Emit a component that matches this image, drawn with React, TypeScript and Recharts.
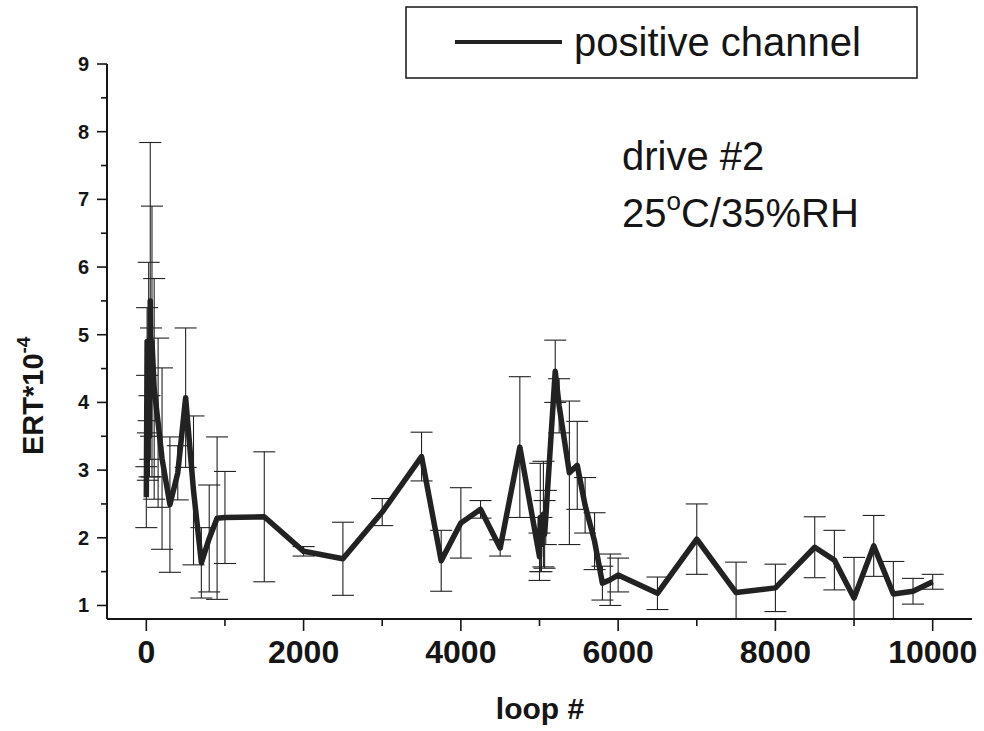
import { LineChart, Line, XAxis, YAxis, ErrorBar } from "recharts";

const FONT = "'Liberation Sans', Arial, sans-serif";
const INK = "#151515";

// loop #
const LOOPS = [
  0, 10, 20, 30, 40, 50, 60, 72, 100, 150, 200, 300, 400, 500, 600, 700, 800, 900, 1000,
  1500, 2000, 2500, 3000, 3500, 3750, 4000, 4250, 4500, 4750,
  5000, 5010, 5025, 5050, 5065, 5080, 5200, 5250, 5380, 5480, 5580, 5700, 5800, 5900,
  6000, 6500, 7000, 7500, 8000, 8500, 8750, 9000, 9250, 9500, 9750, 10000,
];
// ERT*10^-4
const ERT = [
  2.6, 4.9, 3.2, 4.9, 3.5, 5.5, 4.3, 4.9, 4.2, 3.7, 3.17, 2.49, 2.96, 4.07, 2.7, 1.63, 1.99, 2.29, 2.3,
  2.31, 1.8, 1.69, 2.38, 3.2, 1.66, 2.22, 2.42, 1.85, 3.34,
  1.72, 2.3, 1.9, 2.35, 2.05, 2.3, 4.46, 3.95, 2.96, 3.07, 2.48, 1.95, 1.33, 1.38,
  1.45, 1.18, 1.98, 1.19, 1.26, 1.86, 1.67, 1.11, 1.88, 1.17, 1.21, 1.35,
];
// error bar half height
const ERR = [
  0.45, 0.5, 0.35, 1.17, 0.6, 2.34, 0.8, 2.0, 1.63, 1.25, 1.34, 1.0, 0.4, 1.03, 1.1, 0.52, 0.79, 1.2, 0.68,
  0.96, 0.07, 0.54, 0.2, 0.36, 0.45, 0.52, 0.13, 0.12, 1.04,
  0.35, 0.8, 0.4, 0.78, 0.5, 0.4, 0.46, 0.4, 1.06, 0.65, 0.41, 0.42, 0.25, 0.38,
  0.25, 0.24, 0.52, 0.45, 0.35, 0.45, 0.44, 0.6, 0.45, 0.48, 0.19, 0.11,
];

const X_TICKS = [0, 1000, 2000, 3000, 4000, 5000, 6000, 7000, 8000, 9000, 10000];
const Y_TICKS = [1, 1.5, 2, 2.5, 3, 3.5, 4, 4.5, 5, 5.5, 6, 6.5, 7, 7.5, 8, 8.5, 9];

const Y_MIN = 0.8;
const PLOT_LEFT = 107;
const PLOT_BOTTOM = 619;

const data = LOOPS.map((loop, i) => ({
  loop,
  ert: ERT[i],
  // clip the lower whisker at the bottom of the frame
  err: [Math.min(ERR[i], ERT[i] - Y_MIN), ERR[i]],
}));

function XTick({ x, payload }: any) {
  const v = payload.value;
  const major = v % 2000 === 0;
  return (
    <g>
      <line x1={x} x2={x} y1={PLOT_BOTTOM} y2={PLOT_BOTTOM + (major ? 12 : 7)} stroke={INK} strokeWidth={1.6} />
      {major && (
        <text x={x} y={663} textAnchor="middle" fontFamily={FONT} fontWeight="bold" fontSize={32} fill={INK}>
          {v}
        </text>
      )}
    </g>
  );
}

function YTick({ y, payload }: any) {
  const v = payload.value;
  const major = Number.isInteger(v);
  return (
    <g>
      <line x1={PLOT_LEFT} x2={PLOT_LEFT - (major ? 10 : 6)} y1={y} y2={y} stroke={INK} strokeWidth={1.6} />
      {major && (
        <text x={89} y={y + 7} textAnchor="end" fontFamily={FONT} fontWeight="bold" fontSize={20} fill={INK}>
          {v}
        </text>
      )}
    </g>
  );
}

export default function App() {
  return (
    <div style={{ position: "absolute", left: 0, top: 0, width: 984, height: 731, background: "#fff" }}>
      <LineChart
        width={984}
        height={731}
        data={data}
        margin={{ top: 64, right: 12, left: 47, bottom: 52 }}
      >
        <XAxis
          dataKey="loop"
          type="number"
          domain={[-500, 10500]}
          ticks={X_TICKS}
          interval={0}
          allowDataOverflow
          height={60}
          tickLine={false}
          axisLine={{ stroke: INK, strokeWidth: 2 }}
          tick={<XTick />}
        />
        <YAxis
          type="number"
          domain={[Y_MIN, 9]}
          ticks={Y_TICKS}
          interval={0}
          allowDataOverflow
          width={60}
          tickLine={false}
          axisLine={{ stroke: INK, strokeWidth: 2 }}
          tick={<YTick />}
        />
        <Line
          dataKey="ert"
          type="linear"
          stroke="#222"
          strokeWidth={5.5}
          strokeLinejoin="round"
          dot={false}
          isAnimationActive={false}
        >
          <ErrorBar dataKey="err" direction="y" width={11} stroke="#222" strokeWidth={1.1} isAnimationActive={false} />
        </Line>
      </LineChart>

      <svg width={984} height={731} style={{ position: "absolute", left: 0, top: 0, pointerEvents: "none" }}>
        {/* legend */}
        <rect x={406} y={7} width={511} height={71} fill="#fff" stroke={INK} strokeWidth={1.5} />
        <line x1={455} x2={562} y1={42} y2={42} stroke="#222" strokeWidth={4} />
        <text x={574} y={56} fontFamily={FONT} fontSize={40} fill={INK}>
          positive channel
        </text>

        {/* annotations */}
        <text x={622} y={170} fontFamily={FONT} fontSize={40} fill={INK}>
          drive #2
        </text>
        <text x={622} y={227} fontFamily={FONT} fontSize={40} fill={INK}>
          25
          <tspan fontSize={26} dy={-17}>o</tspan>
          <tspan dy={17}>C/35%RH</tspan>
        </text>

        {/* axis titles */}
        <text
          transform="translate(43,455) rotate(-90)"
          fontFamily={FONT}
          fontWeight="bold"
          fontSize={29}
          fill={INK}
        >
          ERT*10
          <tspan fontSize={19} dy={-13}>-4</tspan>
        </text>
        <text x={540} y={719} textAnchor="middle" fontFamily={FONT} fontWeight="bold" fontSize={30} fill={INK}>
          loop #
        </text>
      </svg>
    </div>
  );
}
